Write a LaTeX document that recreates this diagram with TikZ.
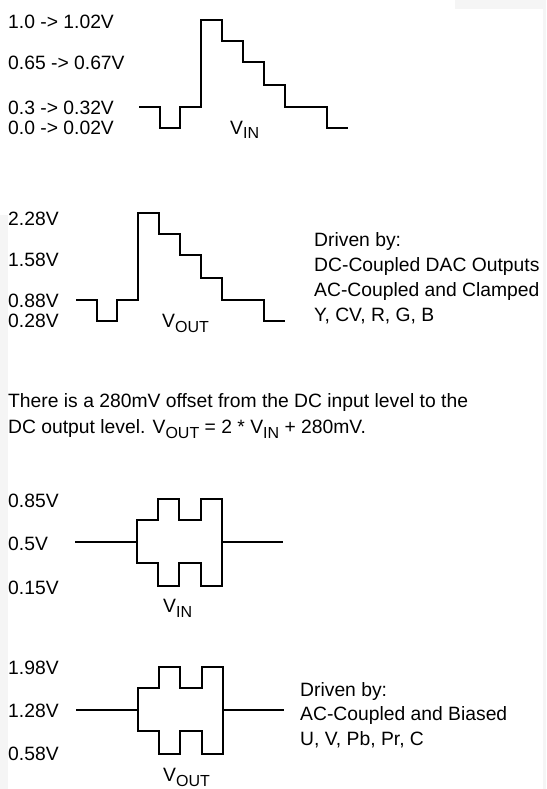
\documentclass[tikz,border=0pt]{standalone}
\usepackage{fontspec}
\setmainfont{Liberation Sans}
\newcommand\subsc[1]{\raisebox{-5pt}{\fontsize{16}{16}\selectfont #1}}
\begin{document}
\begin{tikzpicture}[x=1pt,y=-1pt,
  lbl/.style={anchor=base west, inner sep=0pt, font=\fontsize{19.3}{22}\selectfont},
  wave/.style={line width=2.6pt, line join=miter, line cap=butt}]
\useasboundingbox (0,0) rectangle (546,789);
\fill[black!4] (0,215) rectangle (8,789);
\fill[black!4] (455,0) rectangle (546,9);
\fill[black!4] (543,9) rectangle (546,789);
% ---- waveform 1 (VIN staircase)
\draw[wave] (139,107) -- (160,107) -- (160,128) -- (180,128) -- (180,107) -- (201,107)
  -- (201,20) -- (222,20) -- (222,41) -- (243,41) -- (243,62) -- (264,62) -- (264,85)
  -- (285,85) -- (285,107) -- (327,107) -- (327,128) -- (348,128);
\node[lbl] (a1) at (8,29) {1.0 -> 1.02V};
\node[lbl] (a2) at (8,70) {0.65 -> 0.67V};
\node[lbl] (a3) at (8,114) {0.3 -> 0.32V};
\node[lbl] (a4) at (8,135) {0.0 -> 0.02V};
\node[lbl] (vin1) at (230,134) {V\subsc{IN}};
% ---- waveform 2 (VOUT staircase)
\begin{scope}[shift={(-63,193)}]
\draw[wave] (139,107) -- (160,107) -- (160,128) -- (180,128) -- (180,107) -- (201,107)
  -- (201,20) -- (222,20) -- (222,41) -- (243,41) -- (243,62) -- (264,62) -- (264,85)
  -- (285,85) -- (285,107) -- (327,107) -- (327,128) -- (348,128);
\end{scope}
\node[lbl] (b1) at (8,225) {2.28V};
\node[lbl] (b2) at (8,266) {1.58V};
\node[lbl] (b3) at (8,307) {0.88V};
\node[lbl] (b4) at (8,327.5) {0.28V};
\node[lbl] (vout2) at (162,327) {V\subsc{OUT}};
\node[lbl] (d1) at (314,246.5) {Driven by:};
\node[lbl] (d2) at (314,271.5) {DC-Coupled DAC Outputs};
\node[lbl] (d3) at (314,296.5) {AC-Coupled and Clamped};
\node[lbl] (d4) at (314,321.5) {Y, CV, R, G, B};
% ---- paragraph
\node[lbl] (p1) at (8,407) {There is a 280mV offset from the DC input level to the};
\node[lbl] (p2) at (8,433) {DC output level. V\subsc{OUT} = 2 * V\subsc{IN} + 280mV.};
% ---- waveform 3 (VIN square)
\draw[wave] (75,542) -- (137,542);
\draw[wave] (222,542) -- (283,542);
\draw[wave] (137,542) -- (137,520) -- (158,520) -- (158,499) -- (179,499) -- (179,520)
  -- (201,520) -- (201,499) -- (222,499) -- (222,542);
\draw[wave] (137,542) -- (137,563) -- (158,563) -- (158,586) -- (179,586) -- (179,563)
  -- (201,563) -- (201,586) -- (222,586) -- (222,542);
\node[lbl] (c1) at (8,507) {0.85V};
\node[lbl] (c2) at (8,550) {0.5V};
\node[lbl] (c3) at (8,594) {0.15V};
\node[lbl] (vin3) at (163,612) {V\subsc{IN}};
% ---- waveform 4 (VOUT square)
\begin{scope}[shift={(1,168)}]
\draw[wave] (75,542) -- (137,542);
\draw[wave] (222,542) -- (283,542);
\draw[wave] (137,542) -- (137,520) -- (158,520) -- (158,499) -- (179,499) -- (179,520)
  -- (201,520) -- (201,499) -- (222,499) -- (222,542);
\draw[wave] (137,542) -- (137,563) -- (158,563) -- (158,586) -- (179,586) -- (179,563)
  -- (201,563) -- (201,586) -- (222,586) -- (222,542);
\end{scope}
\node[lbl] (e1) at (8,674) {1.98V};
\node[lbl] (e2) at (8,717) {1.28V};
\node[lbl] (e3) at (8,760) {0.58V};
\node[lbl] (vout4) at (163,781) {V\subsc{OUT}};
\node[lbl] (f1) at (300,696.5) {Driven by:};
\node[lbl] (f2) at (300,720.5) {AC-Coupled and Biased};
\node[lbl] (f3) at (300,745.5) {U, V, Pb, Pr, C};
\end{tikzpicture}
\end{document}
